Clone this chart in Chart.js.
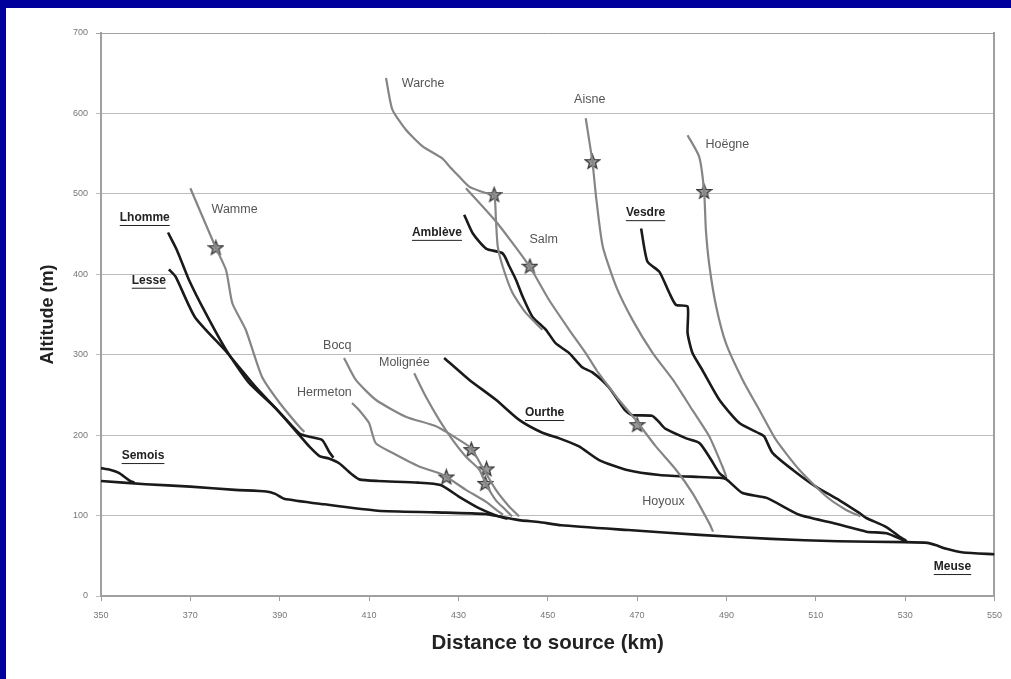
<!DOCTYPE html>
<html>
<head>
<meta charset="utf-8">
<script src="https://cdn.jsdelivr.net/npm/chart.js@4"></script>
<style>
  html, body { margin: 0; padding: 0; background: #00009c; }
  #wrap { position: absolute; left: 6px; top: 8px; width: 1005px; height: 671px; background: #fff; }
</style>
</head>
<body>
<div id="wrap"><canvas id="chart"></canvas></div>
<script>
// axis ticks
const kmTicks = [350, 370, 390, 410, 430, 450, 470, 490, 510, 530, 550];
const altTicks = [0, 100, 200, 300, 400, 500, 600, 700];

// river profiles: [distance to source (km), altitude (m)]
const meuse = [[350,143],[360,139],[370,136],[380,132],[387,130],[389,127],[391,121],[400,114],[412,106],[425,104],[436,102],[440,98],[444,94],[448,92],[453,88],[468,82],[484,76],[500,71],[515,68],[530,67],[535,66],[537,63],[539,59],[543,54],[550,52]];
const semois = [[350,159],[352,157],[354,153],[355.5,147],[356.5,143],[357.5,141]];
const lhomme = [[365,452],[367,430],[369.7,393],[373.4,352],[378,306],[383,266],[389,234],[394.4,202],[396.6,198],[399.5,194],[401,180],[402,172]];
const lesse = [[365.2,406],[366.7,397],[371,347],[378,304],[384.6,260],[390,228],[394.4,200],[396.6,186],[398.9,174],[401,171],[403.3,165],[406.2,151],[407.8,145],[412,143],[421,141],[426,138],[430,124],[434.7,109],[439,99],[441,96]];
const wamme = [[370,507],[375.7,433],[378,405],[379.4,364],[382.4,331],[386,273],[390,240],[394.3,211],[395.5,204]];
const hermeton = [[406.2,240],[407.8,231],[410,215],[411.5,190],[415.2,178],[421.2,161],[426.4,151],[431.7,132],[436.2,117],[439,105],[440,101]];
const bocq = [[404.4,296],[407,269],[411.5,244],[418.2,223],[425,211],[430.2,194],[432.8,184],[435.3,161],[438.4,132],[441.4,111],[443.6,99]];
const molignee = [[420.1,277],[422.7,248],[425.7,219],[428.7,194],[431.7,173],[434.7,157],[436.1,140],[438.4,119],[440.6,107],[442,99]];
const warche = [[413.8,644],[415.2,605],[418.2,580],[422,559],[426.4,544],[428,534],[429.4,526],[432.4,509],[436.2,501],[438,499],[438.4,468],[438.8,435],[439.9,410],[442.1,377],[445.1,352],[448.8,331]];
const salm = [[431.7,507],[438.5,465],[445.9,410],[450.3,368],[454.8,331],[458.5,302],[461,280]];
const hoyoux = [[461,280],[465.3,248],[469.7,219],[470.5,213],[474.2,186],[478.7,157],[482.4,128],[486.2,90],[487,80]];
const ambleve = [[431.3,474],[433.2,451],[436.2,432],[439.9,426],[441.4,410],[442.9,393],[444.4,372],[446.6,347],[449.6,331],[451.8,314],[454.8,302],[457.8,284],[460,278],[463.6,260],[467.3,231],[468.8,225],[473.3,224],[474.8,217],[476.3,208],[481,196],[484,190],[486.5,170],[488.4,153],[490,146]];
const aisne = [[458.5,594],[460,540],[460.8,497],[462.3,435],[465.3,385],[469,343],[473.5,302],[478,269],[482.4,231],[486.2,198],[489.1,161],[490,148]];
const hoegne = [[481.3,573],[483.9,546],[485,503],[485.4,455],[486.2,410],[487.7,360],[489.9,314],[493.6,269],[497.4,231],[501.1,194],[506.3,157],[512.3,124],[516.8,107],[520,99]];
const vesdre = [[470.9,457],[472.3,416],[475,403],[477.2,377],[478.7,362],[481.3,360],[481.3,327],[482.4,302],[484.6,281],[488.4,244],[492.9,215],[497.4,202],[498.5,198],[500.3,178],[504.8,157],[510,136],[515.3,119],[519.8,103],[521.3,97],[525.7,86],[528.7,74],[530.2,69]];
const ourthe = [[426.8,296],[432.4,269],[438.4,244],[443.6,219],[448.8,203],[452.6,196],[457,186],[461.5,169],[467.5,157],[475,150.5],[484,148],[488.4,147],[490,145],[493.6,128],[499,122],[506.3,101],[513.7,91],[521.3,80],[525.8,78],[529.4,70],[530.5,67]];

// knickpoints (stars)
const stars = [[375.7,433],[438,499],[460,540],[485,503],[446,410],[470,213],[427.3,148],[432.9,182],[436.3,158],[436,140]];

// river names: [name, km, altitude, main river?]
const riverLabels = [
  ['Warche', 422.1, 637, false], ['Aisne', 459.4, 617, false], ['Hoëgne', 490.2, 561, false],
  ['Wamme', 379.9, 480, false], ['Lhomme', 359.8, 470, true], ['Lesse', 360.7, 392, true],
  ['Amblève', 425.2, 451.5, true], ['Salm', 449.1, 443, false], ['Vesdre', 471.9, 476, true],
  ['Bocq', 402.9, 312, false], ['Molignée', 417.9, 290, false], ['Hermeton', 400, 252.5, false],
  ['Ourthe', 449.3, 227.5, true], ['Semois', 359.4, 174, true], ['Hoyoux', 475.9, 117, false],
  ['Meuse', 540.6, 36, true]
];

const BLACK = '#1a1a1a';
const GREY = '#858585';

function pts(arr) {
  return arr.map(p => ({ x: p[0], y: p[1] }));
}

function river(arr, main) {
  return {
    data: pts(arr),
    showLine: true,
    borderColor: main ? BLACK : GREY,
    borderWidth: main ? 2.6 : 2.2,
    pointRadius: 0,
    tension: 0.2,
    fill: false
  };
}

// five pointed star marker
const starImg = document.createElement('canvas');
starImg.width = 17;
starImg.height = 17;
(function () {
  const c = starImg.getContext('2d');
  c.beginPath();
  for (let i = 0; i < 10; i++) {
    const r = i % 2 === 0 ? 7.5 : 3.2;
    const a = -Math.PI / 2 + i * Math.PI / 5;
    const px = 8.5 + r * Math.cos(a);
    const py = 9 + r * Math.sin(a);
    if (i === 0) c.moveTo(px, py); else c.lineTo(px, py);
  }
  c.closePath();
  c.fillStyle = '#9a9a9a';
  c.fill();
  c.lineWidth = 1.3;
  c.strokeStyle = '#3a3a3a';
  c.stroke();
})();

const labelPlugin = {
  id: 'riverLabels',
  afterDatasetsDraw(chart) {
    const ctx = chart.ctx;
    const sx = chart.scales.x, sy = chart.scales.y;
    ctx.save();
    ctx.textAlign = 'center';
    ctx.textBaseline = 'middle';
    riverLabels.forEach(l => {
      const x = sx.getPixelForValue(l[1]);
      const y = sy.getPixelForValue(l[2]);
      if (l[3]) {
        ctx.font = 'bold 12px "Liberation Sans"';
        ctx.fillStyle = '#222';
        ctx.fillText(l[0], x, y);
        const w = ctx.measureText(l[0]).width;
        ctx.strokeStyle = '#222';
        ctx.lineWidth = 1;
        ctx.beginPath();
        ctx.moveTo(x - w / 2, y + 7.5);
        ctx.lineTo(x + w / 2, y + 7.5);
        ctx.stroke();
      } else {
        ctx.font = '12.5px "Liberation Sans"';
        ctx.fillStyle = '#555';
        ctx.fillText(l[0], x, y);
      }
    });
    ctx.restore();
  }
};

const datasets = [
  river(meuse, true), river(semois, true), river(lesse, true), river(lhomme, true),
  river(wamme, false), river(hermeton, false), river(bocq, false), river(molignee, false),
  river(warche, false), river(salm, false), river(hoyoux, false), river(aisne, false),
  river(hoegne, false), river(ambleve, true), river(vesdre, true), river(ourthe, true),
  {
    data: pts(stars),
    showLine: false,
    pointStyle: starImg,
    pointRadius: 8
  }
];

new Chart(document.getElementById('chart'), {
  type: 'scatter',
  data: { datasets: datasets },
  plugins: [labelPlugin],
  options: {
    responsive: true,
    maintainAspectRatio: false,
    animation: false,
    layout: { padding: { top: 25, right: 14, left: 0, bottom: 0 } },
    plugins: { legend: { display: false }, tooltip: { enabled: false } },
    scales: {
      x: {
        type: 'linear',
        min: 350,
        max: 550,
        afterBuildTicks: s => { s.ticks = kmTicks.map(v => ({ value: v })); },
        afterFit: s => { s.height = 83; },
        ticks: { color: '#777', font: { family: '"Liberation Sans Narrow", "Liberation Sans"', size: 9 }, padding: 9, maxRotation: 0 },
        grid: { drawOnChartArea: false, drawTicks: true, tickLength: 5, color: '#a0a0a0' },
        border: { color: '#a0a0a0', width: 2 },
        title: { display: true, text: 'Distance to source (km)', color: '#222', font: { family: '"Liberation Sans"', size: 20.5, weight: 'bold' }, padding: { top: 0, bottom: 23 } }
      },
      y: {
        min: 0,
        max: 700,
        afterBuildTicks: s => { s.ticks = altTicks.map(v => ({ value: v })); },
        afterFit: s => { s.width = 95; },
        ticks: { color: '#777', font: { family: '"Liberation Sans Narrow", "Liberation Sans"', size: 9 }, padding: 8 },
        grid: { color: ctx => ctx.tick && ctx.tick.value === 700 ? '#a0a0a0' : '#bdbdbd', tickLength: 5 },
        border: { color: '#a0a0a0', width: 2 },
        title: { display: true, text: 'Altitude (m)', color: '#222', font: { family: '"Liberation Sans"', size: 18, weight: 'bold' }, padding: { top: 31, bottom: 0 } }
      },
      y2: {
        position: 'right',
        min: 0,
        max: 700,
        afterFit: s => { s.width = 0; },
        ticks: { display: false },
        grid: { drawOnChartArea: false, drawTicks: false },
        border: { color: '#a0a0a0', width: 2 }
      }
    }
  }
});
</script>
</body>
</html>
